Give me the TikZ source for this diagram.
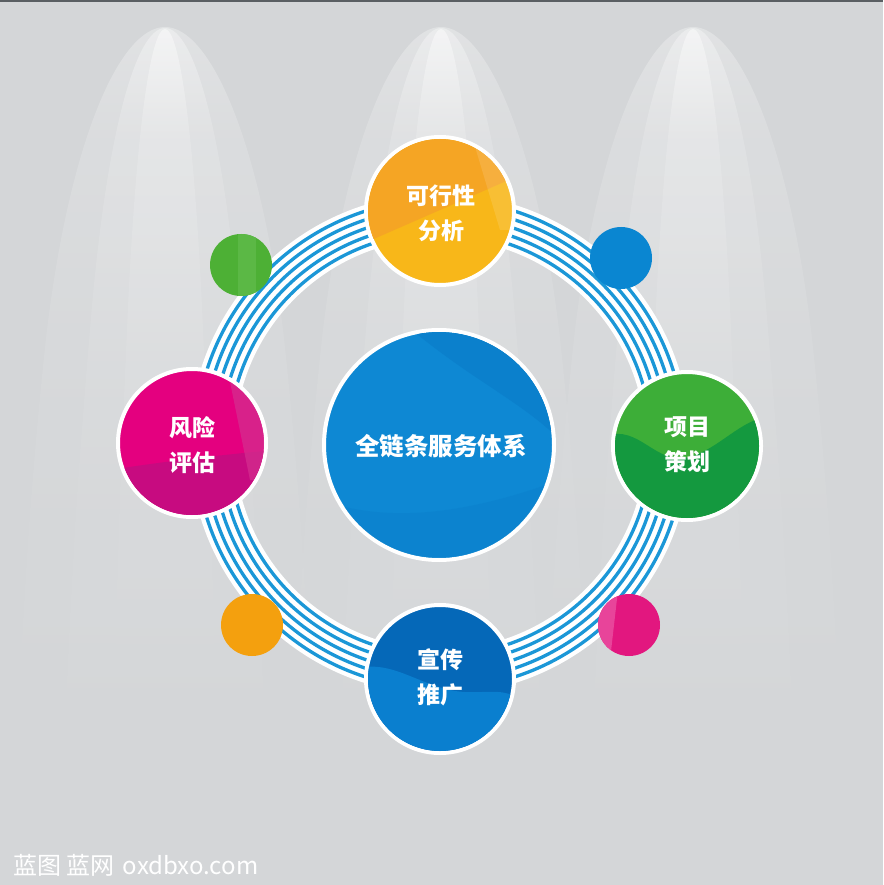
\documentclass[tikz,border=0pt]{standalone}
\usepackage{fontspec}
\newfontfamily\cjk{Noto Sans CJK SC}
\definecolor{bg}{HTML}{D4D6D8}
\definecolor{topline}{HTML}{5A5F63}
\definecolor{ringblue}{HTML}{1B97D7}
\definecolor{orA}{HTML}{F5A524}
\definecolor{orB}{HTML}{F8B719}
\definecolor{grA}{HTML}{3DAE38}
\definecolor{grB}{HTML}{14993F}
\definecolor{mgA}{HTML}{E4007F}
\definecolor{mgB}{HTML}{C70B80}
\definecolor{mgC}{HTML}{D4308F}
\definecolor{blA}{HTML}{0568B8}
\definecolor{blB}{HTML}{0A7FCF}
\definecolor{ctA}{HTML}{0E88D3}
\definecolor{ctB}{HTML}{0B80CC}
\definecolor{sgr}{HTML}{4DB035}
\definecolor{sgrL}{HTML}{5BB845}
\definecolor{sbl}{HTML}{0A86D1}
\definecolor{sor}{HTML}{F4A00E}
\definecolor{smg}{HTML}{E2177F}
\definecolor{smgL}{HTML}{E8449A}
\colorlet{bgmid}{bg!80!white}
\colorlet{bgtop}{bg!45!white}
\pgfdeclareverticalshading{beamshade}{100bp}{color(0bp)=(bg); color(25bp)=(bg); color(50bp)=(bgmid); color(68bp)=(bgtop); color(75bp)=(white); color(100bp)=(white)}
\newcommand\lightbeam[1]{%
  \shade[shading=beamshade, opacity=0.30]
    (#1,27) .. controls (#1+45,27) and (#1+95,140) .. (#1+118,330)
    .. controls (#1+135,480) and (#1+145,650) .. (#1+150,800)
    -- (#1-150,800)
    .. controls (#1-145,650) and (#1-135,480) .. (#1-118,330)
    .. controls (#1-95,140) and (#1-45,27) .. (#1,27) -- cycle;
  \shade[shading=beamshade, opacity=0.35]
    (#1,28) .. controls (#1+30,28) and (#1+60,140) .. (#1+75,330)
    .. controls (#1+88,480) and (#1+98,640) .. (#1+102,800)
    -- (#1-102,800)
    .. controls (#1-98,640) and (#1-88,480) .. (#1-75,330)
    .. controls (#1-60,140) and (#1-30,28) .. (#1,28) -- cycle;
  \shade[shading=beamshade, opacity=0.45]
    (#1,29) .. controls (#1+15,29) and (#1+30,140) .. (#1+38,330)
    .. controls (#1+45,480) and (#1+50,640) .. (#1+54,800)
    -- (#1-54,800)
    .. controls (#1-50,640) and (#1-45,480) .. (#1-38,330)
    .. controls (#1-30,140) and (#1-15,29) .. (#1,29) -- cycle;
}
\tikzset{
  bigc/.style={circle, draw=white, line width=4pt, minimum size=148pt, inner sep=0pt},
  smallc/.style={circle, minimum size=62pt, inner sep=0pt},
  lbl/.style={text=white, font=\cjk\bfseries\fontsize{23}{35}\selectfont, align=center, inner sep=0pt},
  ringline/.style={ringblue, line width=3.3pt}
}
\begin{document}
\begin{tikzpicture}[x=1pt,y=-1pt]
\useasboundingbox (0,0) rectangle (883,885);
\fill[bg] (0,0) rectangle (883,885);
\fill[topline] (0,0) rectangle (883,2.5);
% spotlights
\lightbeam{165}
\lightbeam{441}
\lightbeam{693}
% ring
\coordinate (ringc) at (440,444);
\draw[white, line width=45pt] (ringc) circle (228pt);
\foreach \r in {211.5,219.75,228,236.25,244.5}
  \draw[ringline] (ringc) circle (\r pt);
% center circle
\node[circle, draw=white, line width=4pt, minimum size=230pt, inner sep=0pt, fill=ctA] (core) at (439,445) {};
\begin{scope}
  \clip (439,445) circle (113pt);
  \fill[ctB] (400,320) -- (560,320) -- (560,440) .. controls (520,400) and (470,380) .. (400,320) -- cycle;
  \fill[ctB, opacity=0.5] (320,500) .. controls (380,520) and (450,520) .. (560,480) -- (560,570) -- (320,570) -- cycle;
\end{scope}
\node[lbl, font=\cjk\bfseries\fontsize{24.5}{30}\selectfont] (coret) at (441,446) {全链条服务体系};
% small circles
\node[smallc, fill=sgr] (sg) at (241,265) {};
\begin{scope}
  \clip (241,265) circle (31pt);
  \fill[sgrL] (238,230) rectangle (256,300);
\end{scope}
\node[smallc, fill=sbl] (sb) at (621,258) {};
\node[smallc, fill=sor] (so) at (252,625) {};
\node[smallc, fill=smg] (sm) at (629,625) {};
\begin{scope}
  \clip (629,625) circle (31pt);
  \fill[smgL] (600,590) -- (618,590) -- (610,660) -- (596,660) -- cycle;
\end{scope}
% top: orange
\node[bigc, fill=orB] (feas) at (440,211) {};
\begin{scope}
  \clip (440,211) circle (72pt);
  \fill[orA] (360,130) -- (520,130) -- (520,175) -- (360,245) -- cycle;
  \fill[white, opacity=0.12] (470,130) -- (520,130) -- (520,230) -- (500,230) -- cycle;
\end{scope}
\node[lbl] (feast) at (441,213) {可行性\\分析};
% right: green
\node[bigc, fill=grA] (plan) at (687,446) {};
\begin{scope}
  \clip (687,446) circle (72pt);
  \fill[grB] (605,436) .. controls (640,424) and (655,466) .. (690,457)
    .. controls (720,448) and (740,420) .. (770,416) -- (770,530) -- (605,530) -- cycle;
\end{scope}
\node[lbl] (plant) at (687,445) {项目\\策划};
% left: magenta
\node[bigc, fill=mgA] (risk) at (192,443) {};
\begin{scope}
  \clip (192,443) circle (72pt);
  \fill[mgB] (110,470) .. controls (160,462) and (220,455) .. (275,450) -- (275,525) -- (110,525) -- cycle;
  \fill[mgC, opacity=0.7] (228,372) -- (275,372) -- (275,480) -- (250,480) -- cycle;
\end{scope}
\node[lbl] (riskt) at (192,445) {风险\\评估};
% bottom: blue
\node[bigc, fill=blA] (prom) at (440,679) {};
\begin{scope}
  \clip (440,679) circle (72pt);
  \fill[blB] (360,668) .. controls (395,660) and (425,690) .. (465,692)
    .. controls (490,693) and (505,688) .. (520,700) -- (520,760) -- (360,760) -- cycle;
\end{scope}
\node[lbl] (promt) at (440,677) {宣传\\推广};
% watermark
\node[anchor=west, text=white, font=\cjk\fontsize{24}{24}\selectfont, inner sep=0pt] (wm) at (13,865) {蓝图 蓝网\hspace{3pt} oxdbxo.com};
\end{tikzpicture}
\end{document}
